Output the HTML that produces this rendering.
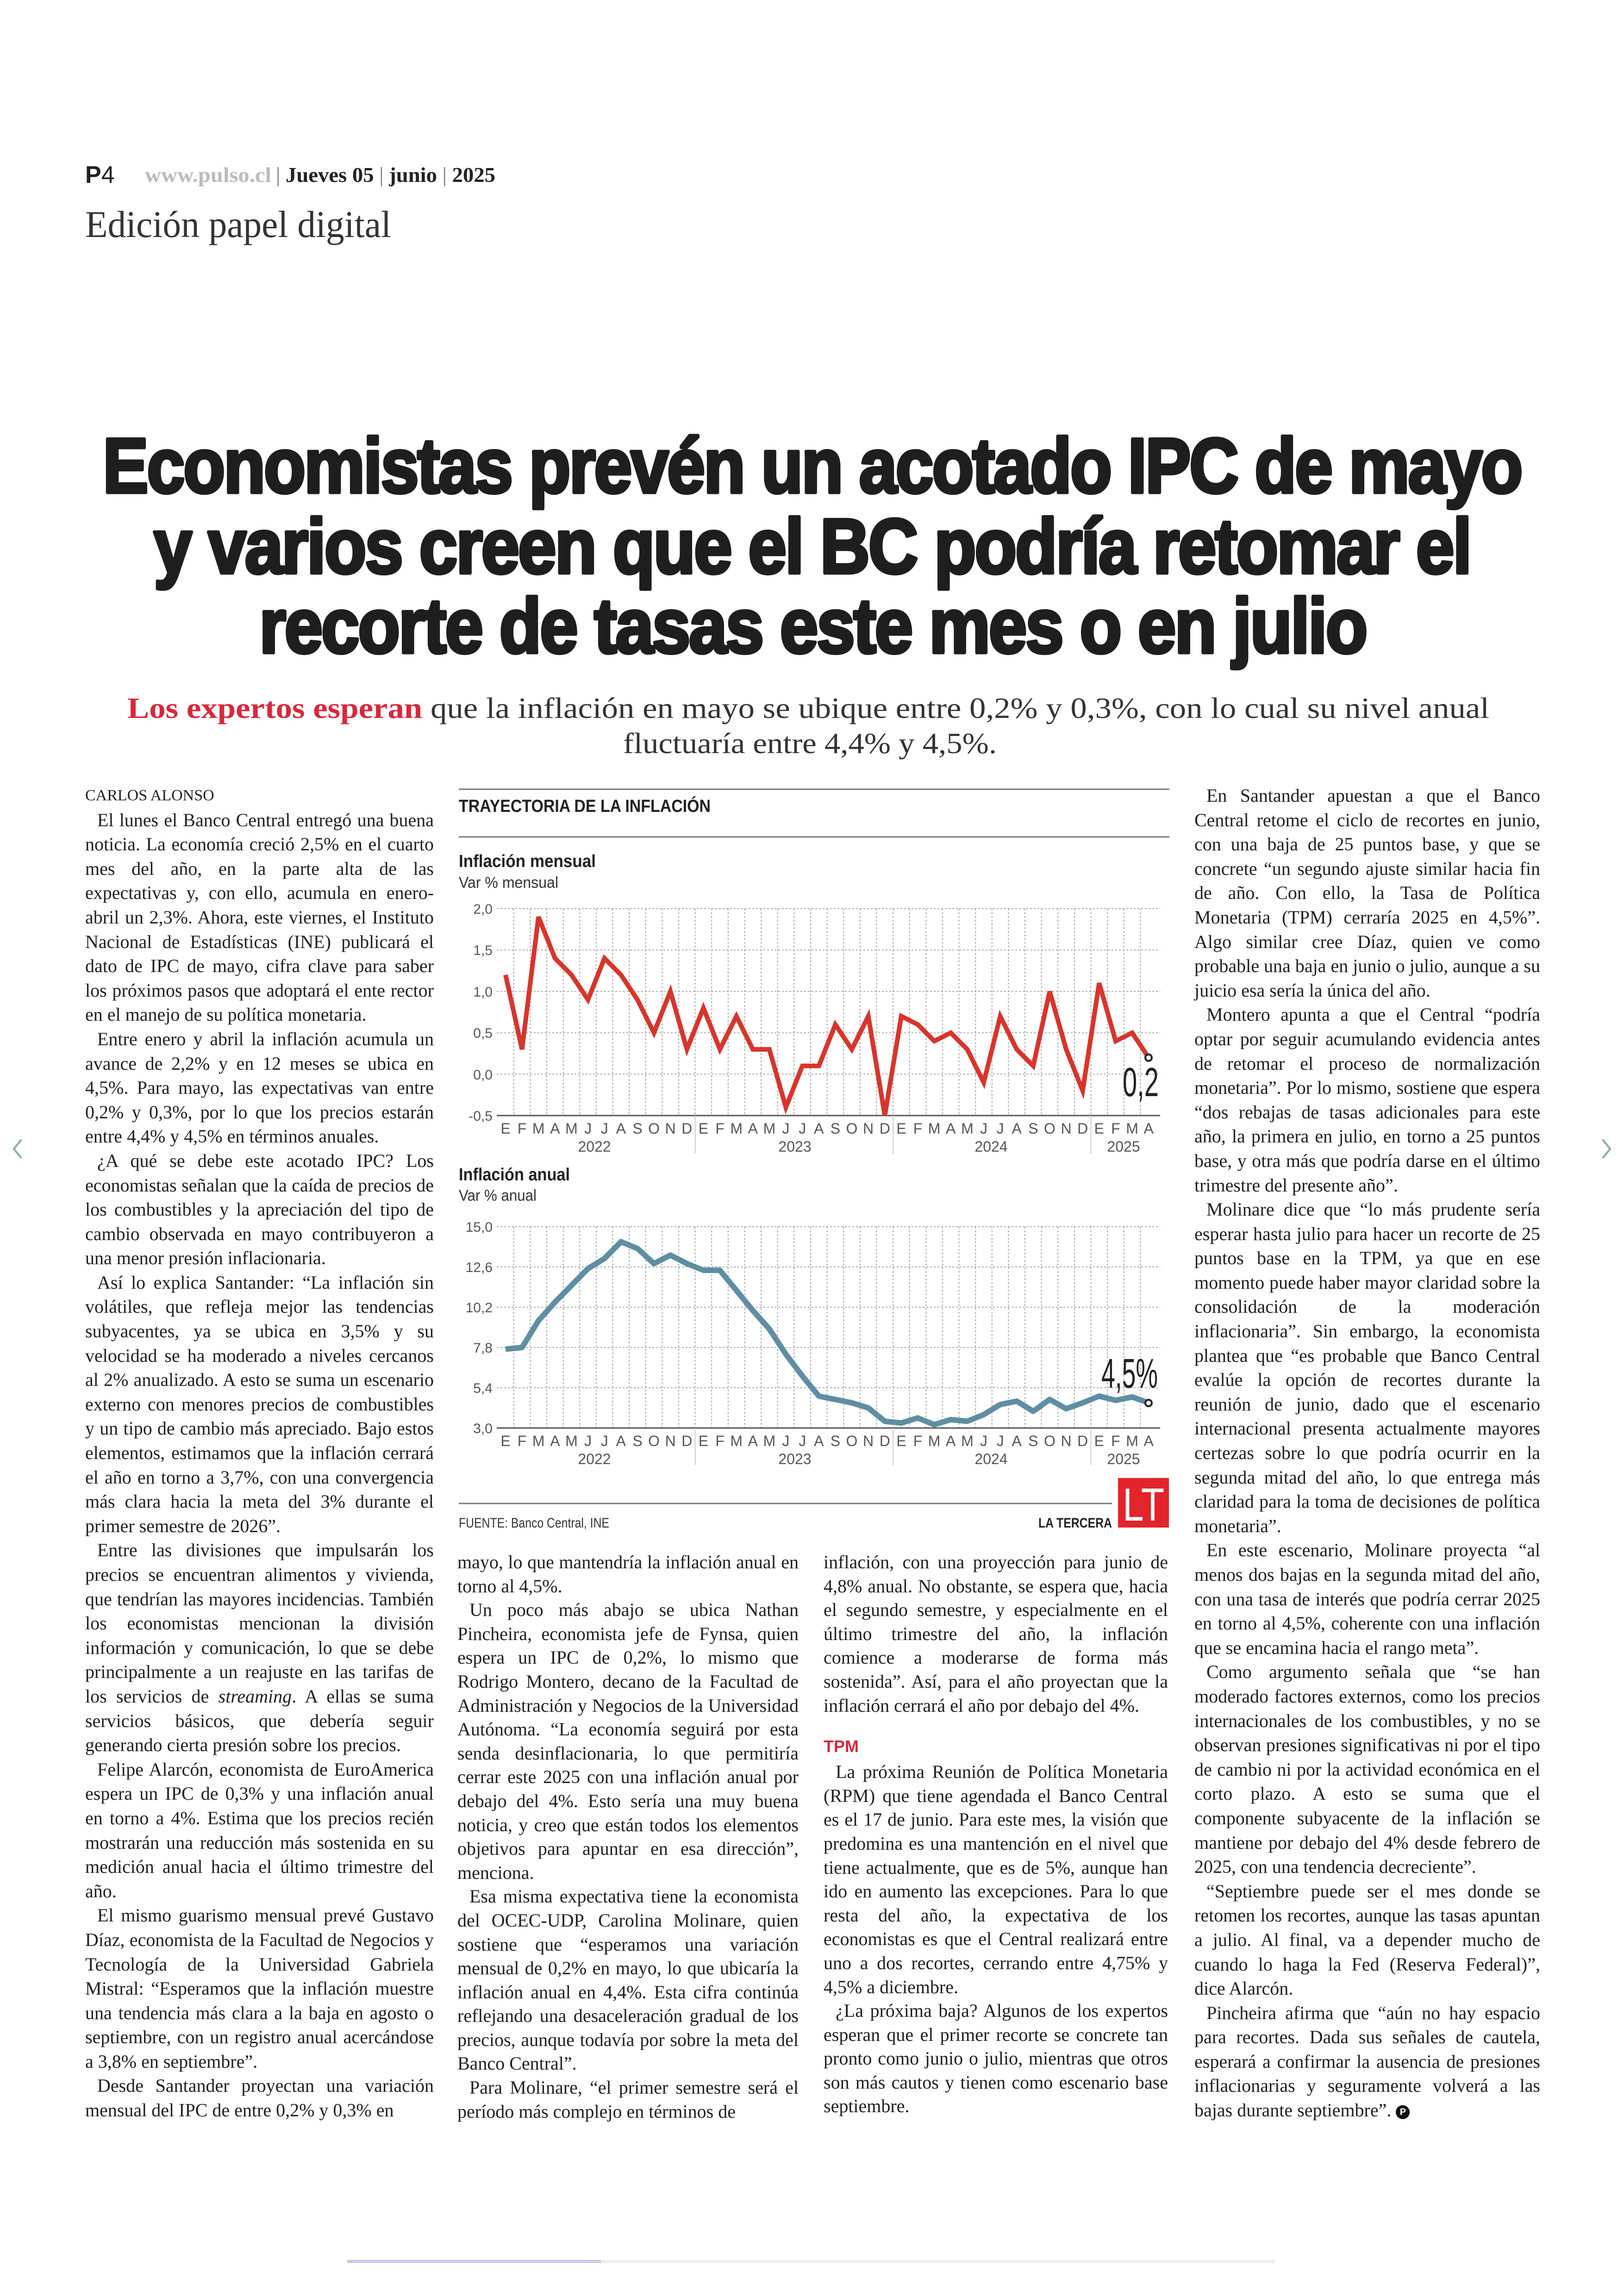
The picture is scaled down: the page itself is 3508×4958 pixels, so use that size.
<!DOCTYPE html>
<html lang="es"><head><meta charset="utf-8">
<style>
html,body{margin:0;padding:0;background:#fff;}
body{width:3508px;height:4958px;position:relative;overflow:hidden;font-family:"Liberation Serif",serif;color:#222;}
.col{position:absolute;font-family:"Liberation Serif",serif;font-size:40px;line-height:51.6px;text-align:justify;color:#1f1f1f;}
.col.tall{line-height:52.6px;}
.col p{margin:0;text-indent:26px;}
.col p.by{text-indent:0;font-size:34px;letter-spacing:0;}
.tpm{font-family:"Liberation Sans",sans-serif;font-weight:bold;color:#d8283a;font-size:36px;margin-top:34px;line-height:58px;}
</style></head><body>

<svg width="3508" height="4958" style="position:absolute;left:0;top:0" xmlns="http://www.w3.org/2000/svg">
<!-- header -->
<text x="184" y="395" font-family="Liberation Sans, sans-serif" font-weight="bold" font-size="52" fill="#222">P<tspan font-weight="normal">4</tspan></text>
<text x="313" y="393" font-family="Liberation Serif, serif" font-weight="bold" font-size="46" fill="#bbb" textLength="273" lengthAdjust="spacingAndGlyphs">www.pulso.cl</text>
<text x="596" y="393" font-family="Liberation Serif, serif" font-weight="bold" font-size="46" fill="#222" textLength="474" lengthAdjust="spacingAndGlyphs"><tspan fill="#777" font-weight="normal">|</tspan> Jueves 05 <tspan fill="#777" font-weight="normal">|</tspan> junio <tspan fill="#777" font-weight="normal">|</tspan> 2025</text>
<text x="184" y="512" font-family="Liberation Serif, serif" font-size="82" fill="#333" textLength="661" lengthAdjust="spacingAndGlyphs">Edición papel digital</text>

<!-- headline -->
<g font-family="Liberation Sans, sans-serif" font-weight="bold" font-size="168" fill="#1e1e1e" stroke="#1e1e1e" stroke-width="7" stroke-linejoin="round" letter-spacing="-4">
<text x="222" y="1064" textLength="3064" lengthAdjust="spacingAndGlyphs">Economistas prevén un acotado IPC de mayo</text>
<text x="332" y="1238" textLength="2844" lengthAdjust="spacingAndGlyphs">y varios creen que el BC podría retomar el</text>
<text x="560" y="1410" textLength="2391" lengthAdjust="spacingAndGlyphs">recorte de tasas este mes o en julio</text>
</g>
<text x="275" y="1551" font-family="Liberation Serif, serif" font-size="64" fill="#333" textLength="2942" lengthAdjust="spacingAndGlyphs"><tspan fill="#d8283a" font-weight="bold">Los expertos esperan</tspan> que la inflación en mayo se ubique entre 0,2% y 0,3%, con lo cual su nivel anual</text>
<text x="1346" y="1627" font-family="Liberation Serif, serif" font-size="64" fill="#333" textLength="807" lengthAdjust="spacingAndGlyphs">fluctuaría entre 4,4% y 4,5%.</text>

<!-- chart frame -->
<line x1="991" y1="1705" x2="2526" y2="1705" stroke="#777" stroke-width="3"/>
<text x="991" y="1754" font-family="Liberation Sans, sans-serif" font-weight="bold" font-size="38" fill="#222" textLength="544" lengthAdjust="spacingAndGlyphs">TRAYECTORIA DE LA INFLACIÓN</text>
<line x1="991" y1="1808" x2="2526" y2="1808" stroke="#777" stroke-width="3"/>

<!-- chart 1 -->
<text x="991" y="1873" font-family="Liberation Sans, sans-serif" font-weight="bold" font-size="38" fill="#222" textLength="296" lengthAdjust="spacingAndGlyphs">Inflación mensual</text>
<text x="991" y="1918" font-family="Liberation Sans, sans-serif" font-size="34" fill="#333" textLength="215" lengthAdjust="spacingAndGlyphs">Var % mensual</text>
<g stroke="#aaa" stroke-width="2" stroke-dasharray="4 4">
<path d="M1073 1963H2506M1073 2052.4H2506M1073 2141.8H2506M1073 2231.2H2506M1073 2320.6H2506"/>
<path d="M1109.8 1963V2410M1145.4 1963V2410M1181 1963V2410M1216.7 1963V2410M1252.3 1963V2410M1287.9 1963V2410M1323.5 1963V2410M1359.1 1963V2410M1394.8 1963V2410M1430.4 1963V2410M1466 1963V2410M1501.6 1963V2410M1537.2 1963V2410M1572.9 1963V2410M1608.5 1963V2410M1644.1 1963V2410M1679.7 1963V2410M1715.3 1963V2410M1751 1963V2410M1786.6 1963V2410M1822.2 1963V2410M1857.8 1963V2410M1893.4 1963V2410M1929.1 1963V2410M1964.7 1963V2410M2000.3 1963V2410M2035.9 1963V2410M2071.5 1963V2410M2107.2 1963V2410M2142.8 1963V2410M2178.4 1963V2410M2214 1963V2410M2249.6 1963V2410M2285.3 1963V2410M2320.9 1963V2410M2356.5 1963V2410M2392.1 1963V2410M2427.7 1963V2410M2463.4 1963V2410"/>
</g>
<line x1="1073" y1="2410" x2="2506" y2="2410" stroke="#555" stroke-width="3"/>
<g stroke="#ccc" stroke-width="2"><path d="M1501.6 2410V2492M1929.1 2410V2492M2356.5 2410V2492"/></g>
<g font-family="Liberation Sans, sans-serif" font-size="30" fill="#555" text-anchor="end">
<text x="1064" y="1974">2,0</text><text x="1064" y="2063">1,5</text><text x="1064" y="2153">1,0</text><text x="1064" y="2242">0,5</text><text x="1064" y="2332">0,0</text><text x="1064" y="2421">-0,5</text>
</g>
<g transform="translate(1092 2320.6) scale(35.62 -178.8)">
<polyline fill="none" stroke="#d7352c" stroke-width="10" stroke-linejoin="miter" vector-effect="non-scaling-stroke" points="0,1.2 1,0.3 2,1.9 3,1.4 4,1.2 5,0.9 6,1.4 7,1.2 8,0.9 9,0.5 10,1.0 11,0.3 12,0.8 13,0.3 14,0.7 15,0.3 16,0.3 17,-0.4 18,0.1 19,0.1 20,0.6 21,0.3 22,0.7 23,-0.5 24,0.7 25,0.6 26,0.4 27,0.5 28,0.3 29,-0.1 30,0.7 31,0.3 32,0.1 33,1.0 34,0.3 35,-0.2 36,1.1 37,0.4 38,0.5 39,0.2"/>
</g>
<circle cx="2481" cy="2285" r="7" fill="#fff" stroke="#222" stroke-width="4"/>
<text x="2425" y="2368" font-family="Liberation Sans, sans-serif" font-size="88" fill="#222" textLength="78" lengthAdjust="spacingAndGlyphs">0,2</text>

<!-- chart 2 -->
<text x="991" y="2550" font-family="Liberation Sans, sans-serif" font-weight="bold" font-size="38" fill="#222" textLength="240" lengthAdjust="spacingAndGlyphs">Inflación anual</text>
<text x="991" y="2594" font-family="Liberation Sans, sans-serif" font-size="34" fill="#333" textLength="168" lengthAdjust="spacingAndGlyphs">Var % anual</text>
<g stroke="#aaa" stroke-width="2" stroke-dasharray="4 4">
<path d="M1073 2650H2506M1073 2737H2506M1073 2824H2506M1073 2911H2506M1073 2998H2506"/>
<path d="M1109.8 2650V3085M1145.4 2650V3085M1181 2650V3085M1216.7 2650V3085M1252.3 2650V3085M1287.9 2650V3085M1323.5 2650V3085M1359.1 2650V3085M1394.8 2650V3085M1430.4 2650V3085M1466 2650V3085M1501.6 2650V3085M1537.2 2650V3085M1572.9 2650V3085M1608.5 2650V3085M1644.1 2650V3085M1679.7 2650V3085M1715.3 2650V3085M1751 2650V3085M1786.6 2650V3085M1822.2 2650V3085M1857.8 2650V3085M1893.4 2650V3085M1929.1 2650V3085M1964.7 2650V3085M2000.3 2650V3085M2035.9 2650V3085M2071.5 2650V3085M2107.2 2650V3085M2142.8 2650V3085M2178.4 2650V3085M2214 2650V3085M2249.6 2650V3085M2285.3 2650V3085M2320.9 2650V3085M2356.5 2650V3085M2392.1 2650V3085M2427.7 2650V3085M2463.4 2650V3085"/>
</g>
<line x1="1073" y1="3085" x2="2506" y2="3085" stroke="#555" stroke-width="3"/>
<g stroke="#ccc" stroke-width="2"><path d="M1501.6 3085V3165M1929.1 3085V3165M2356.5 3085V3165"/></g>
<g font-family="Liberation Sans, sans-serif" font-size="30" fill="#555" text-anchor="end">
<text x="1064" y="2661">15,0</text><text x="1064" y="2748">12,6</text><text x="1064" y="2835">10,2</text><text x="1064" y="2922">7,8</text><text x="1064" y="3009">5,4</text><text x="1064" y="3096">3,0</text>
</g>
<g transform="translate(1092 3193.75) scale(35.62 -36.25)">
<polyline fill="none" stroke="#5f8ea3" stroke-width="12" stroke-linejoin="round" vector-effect="non-scaling-stroke" points="0,7.7 1,7.8 2,9.4 3,10.5 4,11.5 5,12.5 6,13.1 7,14.1 8,13.7 9,12.8 10,13.3 11,12.8 12,12.4 13,12.4 14,11.2 15,10.0 16,8.9 17,7.4 18,6.1 19,4.9 20,4.7 21,4.5 22,4.2 23,3.4 24,3.3 25,3.6 26,3.2 27,3.5 28,3.4 29,3.8 30,4.4 31,4.6 32,4.0 33,4.7 34,4.15 35,4.5 36,4.9 37,4.65 38,4.85 39,4.5"/>
</g>
<circle cx="2481" cy="3031" r="7" fill="#fff" stroke="#222" stroke-width="4"/>
<text x="2379" y="2998" font-family="Liberation Sans, sans-serif" font-size="90" fill="#222" textLength="122" lengthAdjust="spacingAndGlyphs">4,5%</text>

<!-- month labels -->
<g font-family="Liberation Sans, sans-serif" font-size="32" fill="#555" text-anchor="middle" id="m1">
<text y="2449"><tspan x="1092">E</tspan><tspan x="1127.6">F</tspan><tspan x="1163.2">M</tspan><tspan x="1198.9">A</tspan><tspan x="1234.5">M</tspan><tspan x="1270.1">J</tspan><tspan x="1305.7">J</tspan><tspan x="1341.3">A</tspan><tspan x="1377">S</tspan><tspan x="1412.6">O</tspan><tspan x="1448.2">N</tspan><tspan x="1483.8">D</tspan><tspan x="1519.4">E</tspan><tspan x="1555.1">F</tspan><tspan x="1590.7">M</tspan><tspan x="1626.3">A</tspan><tspan x="1661.9">M</tspan><tspan x="1697.5">J</tspan><tspan x="1733.2">J</tspan><tspan x="1768.8">A</tspan><tspan x="1804.4">S</tspan><tspan x="1840">O</tspan><tspan x="1875.6">N</tspan><tspan x="1911.3">D</tspan><tspan x="1946.9">E</tspan><tspan x="1982.5">F</tspan><tspan x="2018.1">M</tspan><tspan x="2053.7">A</tspan><tspan x="2089.4">M</tspan><tspan x="2125">J</tspan><tspan x="2160.6">J</tspan><tspan x="2196.2">A</tspan><tspan x="2231.8">S</tspan><tspan x="2267.5">O</tspan><tspan x="2303.1">N</tspan><tspan x="2338.7">D</tspan><tspan x="2374.3">E</tspan><tspan x="2409.9">F</tspan><tspan x="2445.6">M</tspan><tspan x="2481.2">A</tspan></text>
<text y="2488"><tspan x="1284">2022</tspan><tspan x="1717">2023</tspan><tspan x="2141">2024</tspan><tspan x="2427">2025</tspan></text>
</g>
<use href="#m1" transform="translate(0 675)"/>

<!-- footer of chart -->
<line x1="991" y1="3248" x2="2402" y2="3248" stroke="#777" stroke-width="3"/>
<text x="991" y="3300" font-family="Liberation Sans, sans-serif" font-size="30" fill="#333" textLength="325" lengthAdjust="spacingAndGlyphs">FUENTE: Banco Central, INE</text>
<text x="2243" y="3300" font-family="Liberation Sans, sans-serif" font-weight="bold" font-size="30" fill="#222" textLength="159" lengthAdjust="spacingAndGlyphs">LA TERCERA</text>
<rect x="2415" y="3193" width="110" height="107" fill="#e3242b"/>
<text x="2425" y="3285" font-family="Liberation Sans, sans-serif" font-size="100" fill="#fff" textLength="90" lengthAdjust="spacingAndGlyphs">LT</text>

<!-- nav arrows & scrollbar -->
<path d="M46 2462L30 2482L46 2502" fill="none" stroke="#8aa" stroke-width="4"/>
<path d="M3462 2462L3478 2482L3462 2502" fill="none" stroke="#8aa" stroke-width="4"/>
<rect x="750" y="4882" width="2004" height="7" fill="#eee"/>
<rect x="750" y="4882" width="548" height="7" fill="#c9cbe0"/>
</svg>

<div class="col tall" style="left:184px;top:1693px;width:753px;">
<p class="by">CARLOS ALONSO</p>
<p>El lunes el Banco Central entregó una buena noticia. La economía creció 2,5% en el cuarto mes del año, en la parte alta de las expectativas y, con ello, acumula en enero-abril un 2,3%. Ahora, este viernes, el Instituto Nacional de Estadísticas (INE) publicará el dato de IPC de mayo, cifra clave para saber los próximos pasos que adoptará el ente rector en el manejo de su política monetaria.</p>
<p>Entre enero y abril la inflación acumula un avance de 2,2% y en 12 meses se ubica en 4,5%. Para mayo, las expectativas van entre 0,2% y 0,3%, por lo que los precios estarán entre 4,4% y 4,5% en términos anuales.</p>
<p>¿A qué se debe este acotado IPC? Los economistas señalan que la caída de precios de los combustibles y la apreciación del tipo de cambio observada en mayo contribuyeron a una menor presión inflacionaria.</p>
<p>Así lo explica Santander: “La inflación sin volátiles, que refleja mejor las tendencias subyacentes, ya se ubica en 3,5% y su velocidad se ha moderado a niveles cercanos al 2% anualizado. A esto se suma un escenario externo con menores precios de combustibles y un tipo de cambio más apreciado. Bajo estos elementos, estimamos que la inflación cerrará el año en torno a 3,7%, con una convergencia más clara hacia la meta del 3% durante el primer semestre de 2026”.</p>
<p>Entre las divisiones que impulsarán los precios se encuentran alimentos y vivienda, que tendrían las mayores incidencias. También los economistas mencionan la división información y comunicación, lo que se debe principalmente a un reajuste en las tarifas de los servicios de <i>streaming</i>. A ellas se suma servicios básicos, que debería seguir generando cierta presión sobre los precios.</p>
<p>Felipe Alarcón, economista de EuroAmerica espera un IPC de 0,3% y una inflación anual en torno a 4%. Estima que los precios recién mostrarán una reducción más sostenida en su medición anual hacia el último trimestre del año.</p>
<p>El mismo guarismo mensual prevé Gustavo Díaz, economista de la Facultad de Negocios y Tecnología de la Universidad Gabriela Mistral: “Esperamos que la inflación muestre una tendencia más clara a la baja en agosto o septiembre, con un registro anual acercándose a 3,8% en septiembre”.</p>
<p>Desde Santander proyectan una variación mensual del IPC de entre 0,2% y 0,3% en</p>
</div>

<div class="col" style="left:988px;top:3349px;width:737px;">
<p style="text-indent:0">mayo, lo que mantendría la inflación anual en torno al 4,5%.</p>
<p>Un poco más abajo se ubica Nathan Pincheira, economista jefe de Fynsa, quien espera un IPC de 0,2%, lo mismo que Rodrigo Montero, decano de la Facultad de Administración y Negocios de la Universidad Autónoma. “La economía seguirá por esta senda desinflacionaria, lo que permitiría cerrar este 2025 con una inflación anual por debajo del 4%. Esto sería una muy buena noticia, y creo que están todos los elementos objetivos para apuntar en esa dirección”, menciona.</p>
<p>Esa misma expectativa tiene la economista del OCEC-UDP, Carolina Molinare, quien sostiene que “esperamos una variación mensual de 0,2% en mayo, lo que ubicaría la inflación anual en 4,4%. Esta cifra continúa reflejando una desaceleración gradual de los precios, aunque todavía por sobre la meta del Banco Central”.</p>
<p>Para Molinare, “el primer semestre será el período más complejo en términos de</p>
</div>

<div class="col" style="left:1779px;top:3349px;width:744px;">
<p style="text-indent:0">inflación, con una proyección para junio de 4,8% anual. No obstante, se espera que, hacia el segundo semestre, y especialmente en el último trimestre del año, la inflación comience a moderarse de forma más sostenida”. Así, para el año proyectan que la inflación cerrará el año por debajo del 4%.</p>
<div class="tpm">TPM</div>
<p>La próxima Reunión de Política Monetaria (RPM) que tiene agendada el Banco Central es el 17 de junio. Para este mes, la visión que predomina es una mantención en el nivel que tiene actualmente, que es de 5%, aunque han ido en aumento las excepciones. Para lo que resta del año, la expectativa de los economistas es que el Central realizará entre uno a dos recortes, cerrando entre 4,75% y 4,5% a diciembre.</p>
<p>¿La próxima baja? Algunos de los expertos esperan que el primer recorte se concrete tan pronto como junio o julio, mientras que otros son más cautos y tienen como escenario base septiembre.</p>
</div>

<div class="col tall" style="left:2580px;top:1693px;width:747px;">
<p>En Santander apuestan a que el Banco Central retome el ciclo de recortes en junio, con una baja de 25 puntos base, y que se concrete “un segundo ajuste similar hacia fin de año. Con ello, la Tasa de Política Monetaria (TPM) cerraría 2025 en 4,5%”. Algo similar cree Díaz, quien ve como probable una baja en junio o julio, aunque a su juicio esa sería la única del año.</p>
<p>Montero apunta a que el Central “podría optar por seguir acumulando evidencia antes de retomar el proceso de normalización monetaria”. Por lo mismo, sostiene que espera “dos rebajas de tasas adicionales para este año, la primera en julio, en torno a 25 puntos base, y otra más que podría darse en el último trimestre del presente año”.</p>
<p>Molinare dice que “lo más prudente sería esperar hasta julio para hacer un recorte de 25 puntos base en la TPM, ya que en ese momento puede haber mayor claridad sobre la consolidación de la moderación inflacionaria”. Sin embargo, la economista plantea que “es probable que Banco Central evalúe la opción de recortes durante la reunión de junio, dado que el escenario internacional presenta actualmente mayores certezas sobre lo que podría ocurrir en la segunda mitad del año, lo que entrega más claridad para la toma de decisiones de política monetaria”.</p>
<p>En este escenario, Molinare proyecta “al menos dos bajas en la segunda mitad del año, con una tasa de interés que podría cerrar 2025 en torno al 4,5%, coherente con una inflación que se encamina hacia el rango meta”.</p>
<p>Como argumento señala que “se han moderado factores externos, como los precios internacionales de los combustibles, y no se observan presiones significativas ni por el tipo de cambio ni por la actividad económica en el corto plazo. A esto se suma que el componente subyacente de la inflación se mantiene por debajo del 4% desde febrero de 2025, con una tendencia decreciente”.</p>
<p>“Septiembre puede ser el mes donde se retomen los recortes, aunque las tasas apuntan a julio. Al final, va a depender mucho de cuando lo haga la Fed (Reserva Federal)”, dice Alarcón.</p>
<p>Pincheira afirma que “aún no hay espacio para recortes. Dada sus señales de cautela, esperará a confirmar la ausencia de presiones inflacionarias y seguramente volverá a las bajas durante septiembre”. <span style="display:inline-block;width:30px;height:30px;border-radius:50%;background:#111;color:#fff;font:bold 20px 'Liberation Sans',sans-serif;text-align:center;line-height:30px;text-indent:0;vertical-align:middle">P</span></p>
</div>
</body></html>
